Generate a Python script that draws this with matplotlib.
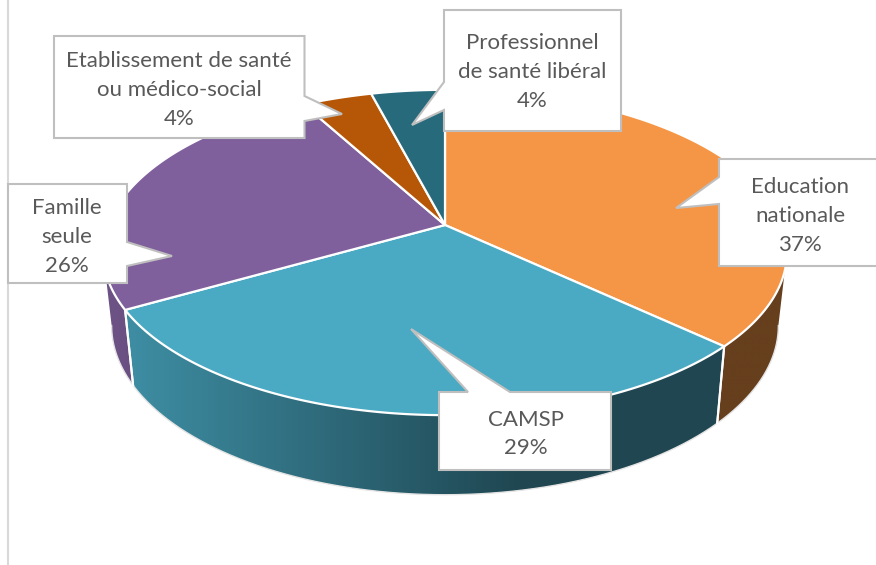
import numpy as np
import matplotlib
matplotlib.use("Agg")
import matplotlib.pyplot as plt
from matplotlib.colors import to_rgb
from matplotlib.patches import Polygon

labels = ["Education\nnationale\n37%", "CAMSP\n29%", "Famille\nseule\n26%",
          "Etablissement de santé\nou médico-social\n4%", "Professionnel\nde santé libéral\n4%"]
# shares estimated from the slice edges
shares = [36.9, 29.9, 25.2, 3.9, 4.1]
colors = ["#F59646", "#4AA9C3", "#7F609C", "#B65708", "#266A7C"]

# pie projection, in image pixels
CX, CY = 445, 225
RX, RY = 337, 158
PERSP = 0.169
BASE_Y = 297


def project_top(theta):
    x, y = np.sin(theta), np.cos(theta)
    s = 1 / (1 + PERSP * y)
    return CX + RX * x * s, CY - RY * y * s


def project_base(theta):
    px, py = project_top(theta)
    return CX + 0.975 * (px - CX), BASE_Y + 1.04 * (py - CY)


def wall_shade(x):
    # light on the left, dark from the middle of the front onwards
    return np.clip(0.85 - (x - 115) / (520 - 115) * 0.43, 0.42, 0.85)


fig = plt.figure(figsize=(8.76, 5.65), dpi=100)
ax = fig.add_axes([0, 0, 1, 1])
ax.axis("off")

# chart frame, left side only
ax.plot([8, 8], [0, 565], color="#d9d9d9", lw=1.5, zorder=1)

edges = 2 * np.pi * np.concatenate([[0], np.cumsum(shares)]) / np.sum(shares)

# the wall runs between the two widest points of the projected circle
side = np.arccos(-PERSP)

# side wall, horizontal gradient clipped to each slice
for start, end, color in zip(edges[:-1], edges[1:], colors):
    lo, hi = max(start, side), min(end, 2 * np.pi - side)
    if hi <= lo:
        continue
    t = np.linspace(lo, hi, 200)
    tx, ty = project_top(t)
    bx, by = project_base(t)
    outline = np.column_stack([np.r_[tx, bx[::-1]], np.r_[ty, by[::-1]]])
    patch = Polygon(outline, closed=True, facecolor="none", edgecolor="none")
    ax.add_patch(patch)
    x0, x1 = outline[:, 0].min(), outline[:, 0].max()
    cols = np.linspace(x0, x1, 400)
    grad = wall_shade(cols)[None, :, None] * np.array(to_rgb(color))[None, None, :]
    im = ax.imshow(grad, extent=(x0, x1, outline[:, 1].max(), outline[:, 1].min()),
                   aspect="auto", zorder=2, interpolation="bilinear")
    im.set_clip_path(patch)
    ax.plot(bx, by, color="#e4e4e4", lw=1, zorder=3)
    # white seam between slices on the wall
    for e in (start, end):
        if side < e < 2 * np.pi - side:
            ex, ey = project_top(e)
            fx, fy = project_base(e)
            ax.plot([ex, fx], [ey, fy], color="white", lw=1.5, zorder=3)

# top face
for start, end, color in zip(edges[:-1], edges[1:], colors):
    t = np.linspace(start, end, 200)
    px, py = project_top(t)
    ax.add_patch(Polygon(np.column_stack([np.r_[CX, px], np.r_[CY, py]]), closed=True,
                         facecolor=color, edgecolor="white", lw=1.6, zorder=4,
                         joinstyle="round"))

# callouts: outline with its pointer, then the text
box_edge = "#bfbfbf"
callouts = [
    ([(719, 159), (880, 159), (880, 266), (719, 266), (719, 204), (676, 208), (719, 177)], (800, 216)),
    ([(439, 392), (468, 392), (411, 329), (510, 392), (611, 392), (611, 470), (439, 470)], (526, 434)),
    ([(8, 184), (127, 184), (127, 242), (172, 256), (127, 266), (127, 283), (8, 283)], (67, 237)),
    ([(54, 36), (304.5, 36), (304.5, 96), (342, 114), (304.5, 121), (304.5, 138), (54, 138)], (179, 90)),
    ([(444, 10), (621, 10), (621, 131), (444, 131), (444, 110), (412, 125), (444, 82)], (532, 72)),
]
for (pts, pos), label in zip(callouts, labels):
    ax.add_patch(Polygon(pts, closed=True, facecolor="white", edgecolor=box_edge, lw=1.5,
                         zorder=5, joinstyle="miter"))
    ax.text(pos[0], pos[1], label, ha="center", va="center", color="#595959", fontsize=16,
            family="Lato", linespacing=1.54, zorder=6)

ax.set_xlim(0, 876)
ax.set_ylim(565, 0)

fig.savefig("out.png", dpi=100)
